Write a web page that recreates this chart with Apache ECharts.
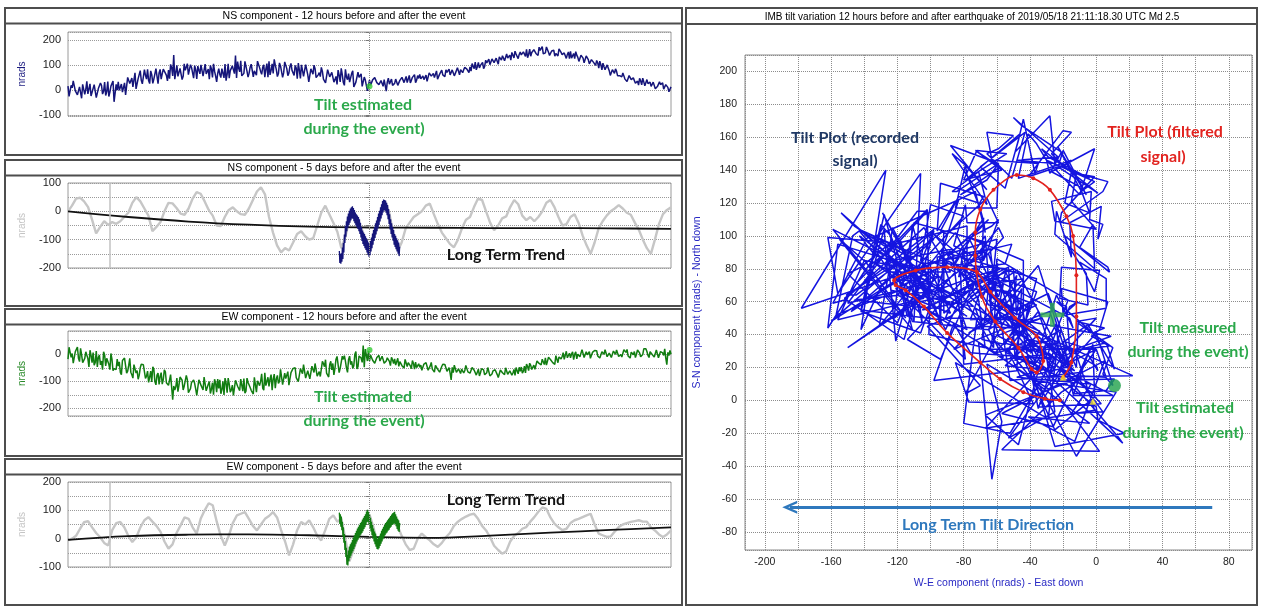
<!DOCTYPE html>
<html><head><meta charset="utf-8">
<script src="https://cdn.jsdelivr.net/npm/echarts@6.0.0/dist/echarts.min.js"></script>
<style>html,body{margin:0;padding:0;background:#fff}#c{width:1261px;height:607px}</style>
</head><body><div id="c"></div>
<script>
// ---- NS component, 12 h before/after (samples every 5 min, nrads)
const ns12h = [
15,-22,8,30,-12,-28,5,22,-18,34,-8,-25,
-14,26,-30,10,18,-6,-23,33,-9,7,-48,22,
32,-1,-9,28,-14,45,29,12,68,9,51,38,
26,58,82,25,61,43,85,25,82,64,90,58,
79,102,56,43,98,70,91,54,78,105,59,90,
47,80,95,64,107,49,64,83,98,50,75,32,
85,49,80,103,62,47,81,99,138,113,72,56,
66,106,51,91,100,76,59,115,74,90,51,105,
114,78,66,99,53,108,88,68,119,57,94,78,
58,87,107,46,78,57,95,32,84,63,85,50,
69,90,43,28,81,52,70,31,54,79,32,61,
18,51,65,34,76,17,31,50,64,15,39,-4,
39,19,34,45,24,16,32,41,-5,47,26,18,
26,47,21,42,47,36,29,58,38,47,29,57,
62,45,41,59,37,66,58,49,76,46,67,60,
53,70,83,55,74,66,89,60,89,81,95,80,
92,105,85,80,110,98,110,94,108,123,103,120,
102,121,132,119,143,117,127,139,150,128,144,125,
152,134,150,162,142,135,153,163,144,171,151,144,
148,167,138,156,159,146,136,163,141,148,126,152,
154,133,125,139,114,139,127,114,138,104,121,110,
98,108,115,80,93,78,94,58,81,66,74,52,
60,68,43,33,57,41,48,26,35,46,20,32,
9,25,31,15,36,6,12,21,28,3,14,-8,
12];
// NS samples taken half-way between the 5-min samples above
const ns12hMid = [
-26,18,36,-4,-20,12,-34,28,2,-16,24,-10,
21,-31,5,27,-17,31,-7,-27,15,35,-13,-1,
-2,23,-11,-20,50,25,47,18,4,45,77,24,
81,43,37,76,26,48,92,68,43,83,67,36,
45,90,140,69,54,86,41,104,78,61,101,68,
97,44,79,100,55,103,64,43,84,104,55,66,
62,85,48,37,104,77,96,65,48,87,116,61,
114,74,67,103,52,72,115,89,62,100,83,51,
60,104,122,81,65,96,50,112,85,67,106,72,
98,45,79,100,54,101,61,40,80,99,49,60,
53,74,35,22,87,58,74,41,22,59,86,29,
82,41,31,66,12,31,71,44,14,51,31,-2,
18,40,49,29,21,37,14,45,32,23,43,26,
43,18,38,50,29,54,37,28,50,61,39,46,
44,56,39,34,68,55,66,51,43,63,79,52,
80,62,60,80,56,68,92,81,69,90,83,69,
75,99,111,93,88,106,85,119,108,101,124,109,
127,103,124,137,117,144,127,119,143,155,134,142,
140,152,134,129,163,150,161,146,138,158,173,146,
172,151,146,162,135,144,164,150,135,153,142,125,
127,146,153,130,120,133,108,136,121,109,127,107,
118,87,101,107,81,100,77,62,79,84,56,57,
52,60,39,30,60,44,50,31,19,36,47,16,
41,20,14,31,4,13,32,18,3,21,10,-7];
// ---- EW component, 12 h before/after
const ew12h = [
-18,23,3,-34,11,-15,22,-31,-15,8,-47,-3,
6,-30,-47,-3,-25,9,-43,-21,-57,-19,-53,-56,
-44,-67,-23,-14,-70,-41,-66,-88,-35,-60,-78,-37,
-39,-89,-62,-84,-102,-55,-113,-69,-82,-110,-57,-105,
-115,-75,-168,-132,-88,-114,-78,-132,-116,-94,-149,-104,
-95,-129,-146,-100,-120,-84,-135,-111,-145,-105,-92,-140,
-126,-146,-100,-88,-142,-110,-132,-152,-96,-118,-134,-91,
-90,-136,-104,-123,-137,-85,-140,-92,-100,-125,-68,-113,
-119,-75,-91,-125,-78,-100,-60,-110,-90,-64,-116,-68,
-54,-86,-101,-53,-72,-34,-83,-57,-90,-49,-34,-81,
-64,-82,-34,-20,-72,-38,-58,-76,-18,-38,-52,-7,
-5,-51,-19,-38,-52,0,-54,-6,-14,32,19,-25,
-25,-5,-15,-34,-12,-25,-7,-33,-25,-14,-42,-20,
-17,-36,-45,-24,-35,-19,-45,-35,-53,-34,-29,-54,
-48,-59,-36,-31,-59,-43,-55,-66,-38,-50,-59,-37,
-38,-63,-49,-95,-68,-44,-72,-50,-55,-69,-41,-65,
-70,-49,-59,-77,-55,-68,-49,-76,-68,-56,-84,-61,
-57,-75,-84,-61,-69,-50,-74,-61,-77,-56,-49,-72,
-63,-70,-44,-36,-60,-41,-49,-56,-25,-34,-39,-15,
-13,-35,-18,-26,-32,-5,-31,-5,-8,-19,11,-10,
-13,9,0,-17,6,-5,14,-11,-2,10,-17,6,
11,-6,-14,9,0,18,-7,5,-11,9,16,-8,
-1,-11,12,18,-8,8,-2,-12,16,5,-2,20,
20,-4,10,-1,-10,16,-13,10,5,20,-38,-5,
0];
const ew12hMid = [
26,-11,-33,10,27,-27,-2,-35,9,-16,15,-31,
-40,12,-11,-39,-57,-3,-15,-37,3,-61,-47,-18,
-28,-75,-19,-42,-62,-15,-76,-38,-69,-92,-50,-39,
-43,-81,-104,-62,-46,-101,-77,-111,-68,-94,-65,-111,
-121,-69,-117,-120,-138,-84,-96,-118,-78,-142,-127,-98,
-108,-152,-94,-114,-132,-82,-141,-101,-129,-149,-106,-92,
-94,-130,-150,-106,-88,-140,-114,-146,-100,-124,-92,-136,
-144,-88,-108,-133,-147,-89,-98,-116,-72,-133,-116,-85,
-91,-133,-73,-91,-108,-56,-112,-70,-96,-114,-68,-52,
-50,-84,-103,-57,-38,-88,-61,-91,-44,-67,-34,-77,
-82,-26,-46,-70,-84,-26,-34,-52,-8,-68,-50,-19,
-25,-67,-7,-26,-42,10,-46,-4,-30,-48,-3,13,
-3,-22,-33,-12,-4,-31,-19,-35,-13,-26,-11,-34,
-40,-15,-27,-42,-51,-25,-31,-43,-23,-55,-49,-35,
-40,-63,-34,-45,-55,-30,-60,-41,-55,-66,-45,-38,
-40,-59,-70,-48,-40,-67,-54,-71,-48,-61,-45,-68,
-73,-46,-58,-71,-80,-53,-58,-69,-49,-80,-73,-58,
-63,-86,-58,-68,-75,-49,-77,-56,-69,-78,-56,-48,
-47,-62,-69,-45,-33,-56,-40,-53,-27,-37,-18,-38,
-40,-11,-20,-31,-37,-7,-10,-17,6,-23,-13,4,
1,-20,9,0,-9,17,-12,9,-5,-15,7,14,
13,-5,-15,8,17,-9,4,-12,12,0,16,-6,
-10,17,7,-6,-14,15,10,0,21,-9,-1,14,
10,-12,16,6,-4,21,-9,11,-4,-14,7,14];
// ---- 5 days before/after (gray background record)
const nsGray5d = [0,20,45,48,35,15,-30,-78,-55,-35,-48,-38,-44,-35,-20,-5,30,50,35,10,-15,-70,-55,-38,0,30,28,12,-8,-12,10,45,68,62,35,5,-15,-50,-52,-20,5,14,0,-10,-12,10,40,70,85,60,-20,-75,-120,-145,-130,-138,-110,-80,-70,-88,-100,-95,-50,-5,20,-10,-40,-72,-130,-90,-30,-10,-35,-60,-100,-130,-90,-40,5,30,-10,-90,-140,-110,-60,-40,-20,-10,0,20,27,-10,-45,-75,-95,-115,-127,-100,-60,-30,-20,15,45,40,0,-40,-67,-50,-25,-18,15,40,25,-15,-31,-20,-35,-20,0,30,40,15,-20,-50,-45,-20,-10,-40,-85,-120,-150,-110,-60,-35,-15,0,10,22,10,-5,-12,-40,-65,-100,-130,-150,-100,-45,-10,5,14];
const ewGray5d = [-6,0,10,35,58,62,40,20,5,-15,-24,30,55,59,40,10,-12,5,40,65,76,60,45,25,-10,-35,-20,20,47,75,70,40,18,70,100,125,118,60,10,-24,10,55,82,88,94,70,45,29,50,70,80,94,75,30,-10,-59,-20,30,59,50,65,40,10,-6,30,70,82,60,70,0,-80,-40,0,30,60,85,40,-25,0,40,65,75,45,10,-20,-40,-35,0,18,5,-6,-20,-29,-15,5,20,45,60,70,78,85,88,70,45,29,5,-25,-40,-53,-45,-10,10,20,35,41,60,76,95,110,105,75,53,40,30,35,55,65,70,76,82,88,50,18,12,6,8,25,41,50,55,59,62,65,60,60,40,29,15,6,15,29];
// long term trends, one value per day from -5 to +5
const nsTrend5d = [0,-20,-36,-47,-54,-57,-58,-59,-59,-60,-62];
const ewTrend5d = [-4,9,14,15,12,6,3,11,21,31,40];
// event window (12 h before/after) as seen in the 5-day panels
const nsEvent5d = [-140,-182,-150,-185,-148,-178,-128,-168,-112,-145,-82,-112,-52,-90,-35,-70,-18,-58,-8,-48,2,-40,10,-32,14,-25,18,-26,12,-35,5,-42,-4,-50,-10,-56,-15,-62,-20,-70,-28,-80,-40,-92,-55,-105,-68,-115,-75,-122,-80,-130,-88,-136,-95,-145,-102,-152,-110,-160,-118,-155,-105,-142,-92,-130,-78,-118,-66,-105,-55,-94,-42,-82,-32,-70,-20,-60,-8,-48,2,-36,14,-25,25,-14,36,-4,42,4,40,2,38,-5,30,-14,22,-28,8,-45,-10,-64,-28,-80,-42,-92,-55,-104,-66,-118,-80,-126,-86,-134,-95,-142,-102,-150,-110,-158,-125];
const ewEvent5d = [92,52,86,42,78,30,60,8,40,-14,16,-40,-8,-65,-32,-92,-58,-95,-42,-80,-28,-68,-20,-60,-14,-52,-5,-44,4,-36,12,-28,20,-18,28,-10,36,-4,42,2,48,10,55,15,60,20,68,26,74,34,80,40,86,48,96,58,102,60,95,50,85,38,74,25,60,12,48,2,36,-10,25,-20,18,-28,8,-36,0,-38,5,-34,10,-26,18,-18,28,-10,35,-2,42,5,48,12,55,18,60,22,65,28,70,32,75,38,80,42,85,48,90,50,92,54,95,52,86,44,78,34,70,28,65,24,55];
const gapDays = [-4.3];
// ---- tilt plot (right): recorded NS vs EW; filtered path
const TILT_X_OFFSET = -10;
const filteredEW = [-22,-31,-44,-58,-70,-90,-104,-115,-121,-122,-109,-90,-72,-64,-49,-36,-32,-36,-39,-47,-61,-69,-73,-73,-70,-62,-48,-38,-28,-18,-14,-12,-12,-15,-20];
const filteredNS = [0,1,5,13,23,41,57,67,70,73,79,81,78,66,50,39,24,17,19,32,48,63,88,102,116,128,137,135,128,112,100,76,51,23,14];
const tiltMeasured = [[-26.5, 52]];
const tiltEstimated = [[11, 9]];
const yellowMarks = [[-20, 14], [-2, -0.5]];
const trendArrow = [[70, -65], [-185, -65]];
const estNS12 = [[0, 14]];
const estEW12 = [[0, 16]];

const interleave = (a, b) => { const out = []; a.forEach((v, i) => { out.push(v); if (i < b.length) out.push(b[i]); }); return out; };
const NS = interleave(ns12h, ns12hMid);
const EW = interleave(ew12h, ew12hMid);
const hrs = arr => arr.map((v, i) => [-12 + i * 24 / (arr.length - 1), v]);
const span = (arr, a, b) => arr.map((v, i) => [a + i * (b - a) / (arr.length - 1), v]);
const FONT = '"Liberation Sans", Arial, sans-serif';
const ANN = 'Lato, "Open Sans", sans-serif';

function isInt(v){ return Math.abs(v - Math.round(v)) < 1e-6; }
function yLeft(gi, min, max, splitNumber, labels, nameColor) {
  return {
    gridIndex: gi, type: 'value', min, max, splitNumber,
    name: 'nrads', nameLocation: 'middle', nameGap: 41,
    nameTextStyle: { color: nameColor, fontSize: 10, fontFamily: FONT },
    axisLine: { show: false },
    axisTick: { show: true, length: 4, lineStyle: { color: '#777' } },
    axisLabel: { margin: 7, fontSize: 11, color: '#222', fontFamily: FONT,
      formatter: v => (isInt(v) && labels.indexOf(Math.round(v)) >= 0) ? String(Math.round(v)) : '' },
    splitLine: { show: true, lineStyle: { type: 'dotted', color: '#9a9a9a', width: 1 } }
  };
}
function xLeft(gi, min, max) { return { gridIndex: gi, type: 'value', min, max, show: false }; }
const evLine = { type: 'dotted', color: '#8a8a8a', width: 1 };
const gapLine = { type: 'solid', color: '#c2c2c2', width: 1.5 };
function marks(withGap) {
  const d = [{ xAxis: 0, lineStyle: evLine }];
  if (withGap) gapDays.forEach(g => d.push({ xAxis: g, lineStyle: gapLine }));
  return { silent: true, symbol: ['none', 'none'], label: { show: false }, animation: false, data: d };
}
const PLUS = 'path://M4,0L6,0L6,4L10,4L10,6L6,6L6,10L4,10L4,6L0,6L0,4L4,4Z';

const gridBase = { show: true, borderColor: '#9a9a9a', borderWidth: 1, backgroundColor: '#fff' };
const option = {
  animation: false,
  backgroundColor: '#fff',
  grid: [
    Object.assign({ left: 68, top: 32, width: 603, height: 84 }, gridBase),
    Object.assign({ left: 68, top: 183, width: 603, height: 85 }, gridBase),
    Object.assign({ left: 68, top: 331, width: 603, height: 85 }, gridBase),
    Object.assign({ left: 68, top: 482, width: 603, height: 85 }, gridBase),
    { show: true, left: 745, top: 55, width: 507, height: 495, borderColor: '#8a8a8a', borderWidth: 1, backgroundColor: '#fff' }
  ],
  xAxis: [
    xLeft(0, -12, 12), xLeft(1, -5, 5), xLeft(2, -12, 12), xLeft(3, -5, 5),
    { gridIndex: 4, type: 'value', min: -212, max: 94, splitNumber: 15,
      name: 'W-E component (nrads) - East down', nameLocation: 'middle', nameGap: 28,
      nameTextStyle: { color: '#2a2ac4', fontSize: 10.5, fontFamily: FONT },
      axisLine: { show: false }, axisTick: { show: false },
      axisLabel: { margin: 7, fontSize: 10.5, color: '#222', fontFamily: FONT,
        formatter: v => (isInt(v) && Math.round(v) % 40 === 0 && v >= -200 && v <= 80) ? String(Math.round(v)) : '' },
      splitLine: { show: true, lineStyle: { type: 'dotted', color: '#8c8c8c', width: 1 } } }
  ],
  yAxis: [
    yLeft(0, -105, 232, 3, [-100, 0, 100, 200], '#1c1c80'),
    yLeft(1, -200, 100, 6, [-200, -100, 0, 100], '#c4c4c4'),
    yLeft(2, -228, 86, 6, [-200, -100, 0], '#2a8a2a'),
    yLeft(3, -100, 200, 6, [-100, 0, 100, 200], '#c4c4c4'),
    { gridIndex: 4, type: 'value', min: -91, max: 210, splitNumber: 15,
      name: 'S-N component (nrads) - North down', nameLocation: 'middle', nameGap: 42,
      nameTextStyle: { color: '#2a2ac4', fontSize: 10.5, fontFamily: FONT },
      axisLine: { show: false }, axisTick: { show: false },
      axisLabel: { margin: 8, fontSize: 10.5, color: '#222', fontFamily: FONT,
        formatter: v => (isInt(v) && Math.round(v) % 20 === 0 && v >= -80 && v <= 200) ? String(Math.round(v)) : '' },
      splitLine: { show: true, lineStyle: { type: 'dotted', color: '#8c8c8c', width: 1 } } }
  ],
  series: [
    // panel 1
    { type: 'line', xAxisIndex: 0, yAxisIndex: 0, data: hrs(NS), showSymbol: false, silent: true,
      lineStyle: { color: '#15157a', width: 1.5 }, markLine: marks(false) },
    { type: 'scatter', xAxisIndex: 0, yAxisIndex: 0, data: estNS12, symbolSize: 6, itemStyle: { color: '#35cc35' }, zlevel: 1, silent: true },
    // panel 2
    { type: 'line', xAxisIndex: 1, yAxisIndex: 1, data: span(nsGray5d, -5, 5), showSymbol: false, silent: true,
      lineStyle: { color: '#c6c6c6', width: 2.4 }, markLine: marks(true) },
    { type: 'line', xAxisIndex: 1, yAxisIndex: 1, data: span(nsTrend5d, -5, 5), showSymbol: false, smooth: 0.4, silent: true,
      lineStyle: { color: '#111', width: 1.8 } },
    { type: 'line', xAxisIndex: 1, yAxisIndex: 1, data: span(nsEvent5d, -0.5, 0.5), showSymbol: false, silent: true,
      lineStyle: { color: '#15157a', width: 1.3 }, z: 4 },
    // panel 3
    { type: 'line', xAxisIndex: 2, yAxisIndex: 2, data: hrs(EW), showSymbol: false, silent: true,
      lineStyle: { color: '#117d11', width: 1.5 }, markLine: marks(false) },
    { type: 'scatter', xAxisIndex: 2, yAxisIndex: 2, data: estEW12, symbolSize: 6, itemStyle: { color: '#35cc35' }, zlevel: 1, silent: true },
    // panel 4
    { type: 'line', xAxisIndex: 3, yAxisIndex: 3, data: span(ewGray5d, -5, 5), showSymbol: false, silent: true,
      lineStyle: { color: '#c6c6c6', width: 2.4 }, markLine: marks(true) },
    { type: 'line', xAxisIndex: 3, yAxisIndex: 3, data: span(ewTrend5d, -5, 5), showSymbol: false, smooth: 0.4, silent: true,
      lineStyle: { color: '#111', width: 1.8 } },
    { type: 'line', xAxisIndex: 3, yAxisIndex: 3, data: span(ewEvent5d, -0.5, 0.5), showSymbol: false, silent: true,
      lineStyle: { color: '#117d11', width: 1.3 }, z: 4 },
    // right tilt plot
    { type: 'line', xAxisIndex: 4, yAxisIndex: 4, data: EW.map((e, i) => [e + TILT_X_OFFSET, NS[i]]),
      showSymbol: false, silent: true, lineStyle: { color: '#1414e0', width: 1.5 },
      markLine: { silent: true, symbol: ['none', 'path://M6,0 L12,14 L9.6,14 L6,5.6 L2.4,14 L0,14 Z'], symbolSize: [13, 15],
        label: { show: false }, lineStyle: { type: 'solid', color: '#2e78bd', width: 3 },
        data: [[{ coord: trendArrow[0] }, { coord: trendArrow[1] }]] } },
    { type: 'line', xAxisIndex: 4, yAxisIndex: 4, data: filteredEW.map((x, i) => [x, filteredNS[i]]), smooth: 0.3,
      symbol: 'circle', symbolSize: 4, showSymbol: true, silent: true, zlevel: 1,
      itemStyle: { color: '#e2231f' }, lineStyle: { color: '#e2231f', width: 1.6 } },
    { type: 'scatter', xAxisIndex: 4, yAxisIndex: 4, data: tiltMeasured, symbol: PLUS, symbolKeepAspect: true,
      symbolSize: 24, itemStyle: { color: '#2fae4e' }, zlevel: 1, z: 6, silent: true },
    { type: 'scatter', xAxisIndex: 4, yAxisIndex: 4, data: tiltEstimated, symbol: 'circle', symbolSize: 13,
      itemStyle: { color: '#1fa04a' }, zlevel: 1, z: 6, silent: true },
    { type: 'scatter', xAxisIndex: 4, yAxisIndex: 4, data: yellowMarks, symbol: 'triangle', symbolSize: 7,
      itemStyle: { color: '#f2e12c' }, zlevel: 1, z: 6, silent: true }
  ],
  graphic: []
};

// frames and titles (layout)
const frames = [
  { y: 8, h: 147, t: 'NS component - 12 hours before and after the event' },
  { y: 160, h: 146, t: 'NS component - 5 days before and after the event' },
  { y: 309, h: 147, t: 'EW component - 12 hours before and after the event' },
  { y: 459, h: 146, t: 'EW component - 5 days before and after the event' }
];
const g = option.graphic;
frames.forEach(f => {
  g.push({ type: 'rect', shape: { x: 5, y: f.y, width: 677, height: f.h }, style: { fill: 'none', stroke: '#4d4d4d', lineWidth: 2 }, silent: true });
  g.push({ type: 'line', shape: { x1: 5, y1: f.y + 15.5, x2: 682, y2: f.y + 15.5 }, style: { stroke: '#4d4d4d', lineWidth: 2 }, silent: true });
  g.push({ type: 'text', x: 344, y: f.y + 8.5, style: { text: f.t, font: '10.5px ' + FONT, fill: '#000', align: 'center', verticalAlign: 'middle', textAlign: 'center', textVerticalAlign: 'middle' }, silent: true });
});
g.push({ type: 'rect', shape: { x: 686, y: 8, width: 571, height: 597 }, style: { fill: 'none', stroke: '#4d4d4d', lineWidth: 2 }, silent: true });
g.push({ type: 'line', shape: { x1: 686, y1: 24, x2: 1257, y2: 24 }, style: { stroke: '#4d4d4d', lineWidth: 2 }, silent: true });
g.push({ type: 'text', x: 972, y: 17, style: { text: 'IMB tilt variation 12 hours before and after earthquake of 2019/05/18 21:11:18.30 UTC Md 2.5', font: '10px ' + FONT, fill: '#000', align: 'center', verticalAlign: 'middle', textAlign: 'center', textVerticalAlign: 'middle' }, silent: true });

// annotations
const notes = [
  ['Tilt estimated', 363, 105, '#2aa84a'], ['during the event)', 364, 129, '#2aa84a'],
  ['Long Term Trend', 506, 255, '#111'],
  ['Tilt estimated', 363, 397, '#2aa84a'], ['during the event)', 364, 421, '#2aa84a'],
  ['Long Term Trend', 506, 500, '#111'],
  ['Tilt Plot (recorded', 855, 138, '#1f3864'], ['signal)', 855, 161, '#1f3864'],
  ['Tilt Plot (filtered', 1165, 132, '#e2231f'], ['signal)', 1163, 157, '#e2231f'],
  ['Tilt measured', 1188, 328, '#2aa84a'], ['during the event)', 1188, 352, '#2aa84a'],
  ['Tilt estimated', 1185, 408, '#2aa84a'], ['during the event)', 1183, 433, '#2aa84a'],
  ['Long Term Tilt Direction', 988, 525, '#2e78bd']
];
notes.forEach(n => g.push({ type: 'text', x: n[1], y: n[2], z: 100, zlevel: 2,
  style: { text: n[0], font: 'bold 16px ' + ANN, fill: n[3], align: 'center', verticalAlign: 'middle', textAlign: 'center', textVerticalAlign: 'middle' }, silent: true }));

const chart = echarts.init(document.getElementById('c'), null, { renderer: 'canvas', width: 1261, height: 607 });
chart.setOption(option);
</script></body></html>
